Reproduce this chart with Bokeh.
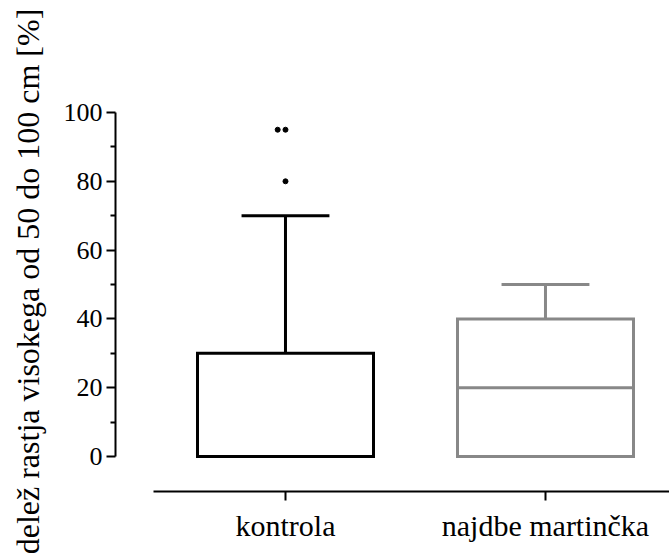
from bokeh.plotting import figure
from bokeh.models import Range1d, FixedTicker
from bokeh.embed import file_html
from bokeh.resources import INLINE

# ---- data ----
categories = ["kontrola", "najdbe martinčka"]
q1 = [0, 0]
median = [0, 20]
q3 = [30, 40]
whisker_low = [0, 0]
whisker_high = [70, 50]
outliers = [[80, 95, 95], []]
colors = ["#000000", "#888888"]
y_ticks = [0, 20, 40, 60, 80, 100]
y_minor = [10, 30, 50, 70, 90]

FONT = "'Liberation Serif'"
pos = [i + 1 for i in range(len(categories))]
box_w = 0.677
cap_w = 0.338

p = figure(width=669, height=560, output_backend="svg", toolbar_location=None,
           x_range=Range1d(0.3462, 2.477), y_range=Range1d(-10.17, 111.92),
           min_border_left=115, min_border_right=0, min_border_top=71,
           min_border_bottom=69)
p.grid.visible = False
p.outline_line_color = None
p.background_fill_color = "white"
p.border_fill_color = "white"

for i, c in enumerate(categories):
    x = pos[i]
    col = colors[i]
    # whiskers
    p.segment(x0=[x, x], y0=[q3[i], q1[i]], x1=[x, x], y1=[whisker_high[i], whisker_low[i]],
              line_color=col, line_width=3)
    p.segment(x0=[x - cap_w / 2, x - cap_w / 2], y0=[whisker_high[i], whisker_low[i]],
              x1=[x + cap_w / 2, x + cap_w / 2], y1=[whisker_high[i], whisker_low[i]],
              line_color=col, line_width=3)
    # box
    p.quad(left=[x - box_w / 2], right=[x + box_w / 2], bottom=[q1[i]], top=[q3[i]],
           fill_color="white", line_color=col, line_width=3, line_join="miter")
    p.segment(x0=[x - box_w / 2], y0=[median[i]], x1=[x + box_w / 2], y1=[median[i]],
              line_color=col, line_width=3)
    # outliers (dodge duplicates)
    seen = {}
    ox, oy = [], []
    for v in outliers[i]:
        k = seen.get(v, 0)
        seen[v] = k + 1
        ox.append(x - 0.03 * k)
        oy.append(v)
    if ox:
        p.scatter(x=ox, y=oy, size=5, color=col, marker="circle")

# y axis
ya = p.yaxis[0]
ya.ticker = FixedTicker(ticks=y_ticks, minor_ticks=y_minor)
ya.bounds = (0, 100)
ya.axis_line_width = 2
ya.major_tick_line_width = 2
ya.minor_tick_line_width = 2
ya.major_tick_out = 9
ya.major_tick_in = 0
ya.minor_tick_out = 5
ya.minor_tick_in = 0
ya.major_label_text_font = FONT
ya.major_label_text_font_size = "26px"
ya.major_label_text_color = "black"
ya.major_label_standoff = 4
ya.axis_label = "delež rastja visokega od 50 do 100 cm [%]"
ya.axis_label_text_font = FONT
ya.axis_label_text_font_size = "32px"
ya.axis_label_text_font_style = "normal"
ya.axis_label_text_color = "black"
ya.axis_label_standoff = 15

# x axis
xa = p.xaxis[0]
xa.ticker = FixedTicker(ticks=pos, minor_ticks=[])
xa.major_label_overrides = {pos[i]: categories[i] for i in range(len(categories))}
xa.bounds = (0.4923, 2.477)
xa.axis_line_width = 2
xa.major_tick_line_width = 2
xa.major_tick_out = 9
xa.major_tick_in = 0
xa.minor_tick_out = 0
xa.minor_tick_in = 0
xa.major_label_text_font = FONT
xa.major_label_text_font_size = "30px"
xa.major_label_text_color = "black"
xa.major_label_standoff = 8

open("out.html", "w").write(file_html(p, INLINE))
